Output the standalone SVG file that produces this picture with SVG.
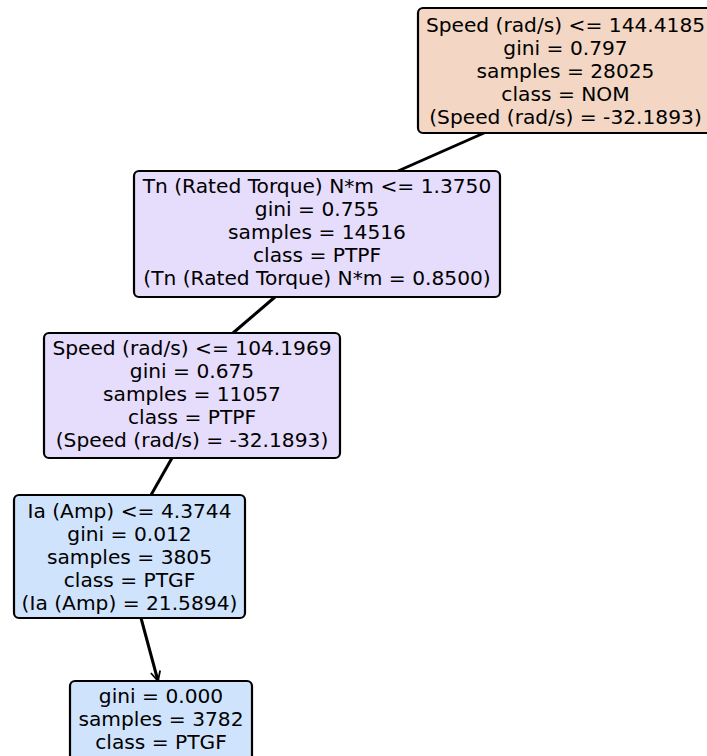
<svg xmlns="http://www.w3.org/2000/svg" width="707" height="756" viewBox="0 0 707 756">
<defs>
<style>
.box{stroke:#000;stroke-width:2.2}
.nom{fill:#f3d6c3}
.ptpf{fill:#e6dcfb}
.ptgf{fill:#d0e3fc}
text{font-family:"DejaVu Sans",sans-serif;font-size:20.2px;fill:#000;text-anchor:middle}
.edge{stroke:#000;stroke-width:3;fill:none}
</style>
<marker id="ah" viewBox="0 0 10 10" refX="9" refY="5" markerWidth="4" markerHeight="4" orient="auto" markerUnits="strokeWidth">
<path d="M1,1 L9,5 L1,9" fill="none" stroke="#000" stroke-width="1.5"/>
</marker>
</defs>
<rect width="707" height="756" fill="#fff"/>
<g id="connectors">
<line class="edge" x1="484" y1="133" x2="398" y2="171"/>
<line class="edge" x1="275" y1="297" x2="233" y2="333"/>
<line class="edge" x1="172" y1="458" x2="151" y2="495"/>
<line class="edge" x1="141" y1="618" x2="158" y2="681" marker-end="url(#ah)"/>
</g>
<g id="node0">
<rect class="box nom" x="418" y="8" width="300" height="125" rx="5"/>
<text x="565.5" y="32">Speed (rad/s) &lt;= 144.4185</text>
<text x="565.5" y="55">gini = 0.797</text>
<text x="565.5" y="78">samples = 28025</text>
<text x="565.5" y="101">class = NOM</text>
<text x="565.5" y="124">(Speed (rad/s) = -32.1893)</text>
</g>
<g id="node1">
<rect class="box ptpf" x="134" y="171" width="366" height="126" rx="5"/>
<text x="317" y="193">Tn (Rated Torque) N*m &lt;= 1.3750</text>
<text x="317" y="216">gini = 0.755</text>
<text x="317" y="239">samples = 14516</text>
<text x="317" y="262">class = PTPF</text>
<text x="317" y="285">(Tn (Rated Torque) N*m = 0.8500)</text>
</g>
<g id="node2">
<rect class="box ptpf" x="44" y="333" width="296" height="125" rx="5"/>
<text x="192" y="355">Speed (rad/s) &lt;= 104.1969</text>
<text x="192" y="378">gini = 0.675</text>
<text x="192" y="401">samples = 11057</text>
<text x="192" y="424">class = PTPF</text>
<text x="192" y="447">(Speed (rad/s) = -32.1893)</text>
</g>
<g id="node3">
<rect class="box ptgf" x="14" y="495" width="231" height="123" rx="5"/>
<text x="129.5" y="518">Ia (Amp) &lt;= 4.3744</text>
<text x="129.5" y="541">gini = 0.012</text>
<text x="129.5" y="564">samples = 3805</text>
<text x="129.5" y="587">class = PTGF</text>
<text x="129.5" y="610">(Ia (Amp) = 21.5894)</text>
</g>
<g id="node4">
<rect class="box ptgf" x="70" y="681" width="182" height="100" rx="5"/>
<text x="161" y="703">gini = 0.000</text>
<text x="161" y="726">samples = 3782</text>
<text x="161" y="749">class = PTGF</text>
</g>
</svg>
